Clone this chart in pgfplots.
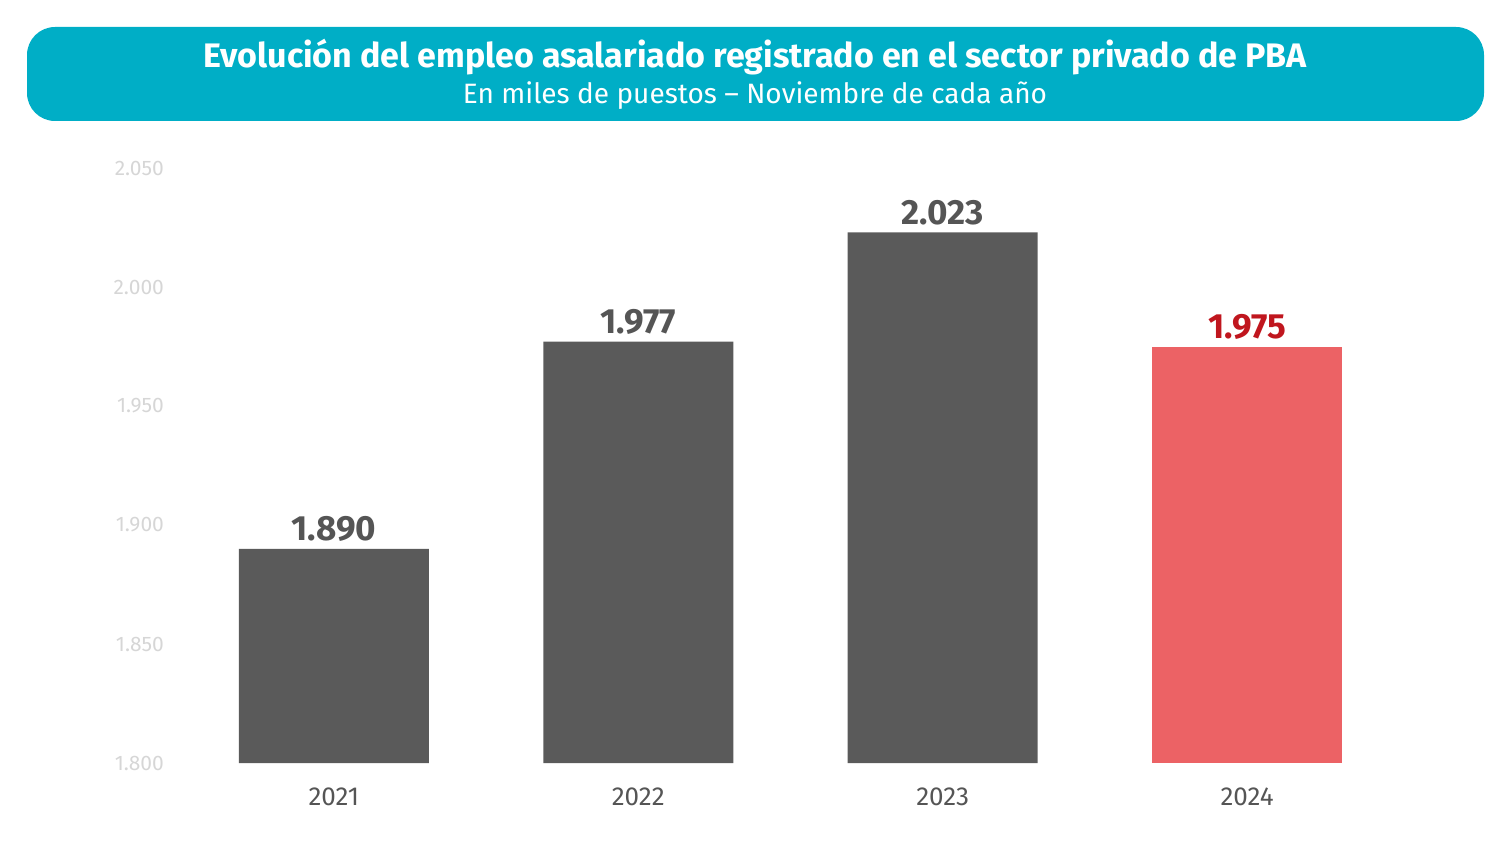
\documentclass[border=0pt]{standalone}
\usepackage{fontspec}
\setmainfont{Fira Sans}
\usepackage{pgfplots}
\pgfplotsset{compat=1.18}
\definecolor{banner}{HTML}{00AEC6}
\definecolor{bargray}{HTML}{5A5A5A}
\definecolor{barred}{HTML}{EC6265}
\definecolor{valred}{HTML}{C0161E}
\definecolor{ticklight}{HTML}{D6D6D6}
\definecolor{xlab}{HTML}{555555}
\begin{document}
\begin{tikzpicture}[x=0.5pt,y=0.5pt]
\path[use as bounding box] (0,0) rectangle (1511,842);
\fill[banner, rounded corners=14pt] (27,721) rectangle (1484,815);
\node[white, font=\fontsize{17}{20}\selectfont\bfseries] at (755,785) {Evolución del empleo asalariado registrado en el sector privado de PBA};
\node[white, font=\fontsize{14}{16}\selectfont] at (755,746) {En miles de puestos – Noviembre de cada año};
\begin{axis}[
  at={(87.5pt,39.5pt)}, anchor=south west,
  scale only axis, width=632.5pt, height=297.5pt,
  xmin=-0.522, xmax=3.634, ymin=1800, ymax=2050,
  axis line style={draw=none},
  ytick={1800,1850,...,2050},
  xtick={0,1,2,3}, xticklabels={2021,2022,2023,2024},
  major tick length=0pt,
  /pgf/number format/assume math mode=true,
  /pgf/number format/1000 sep={.},
  yticklabel style={font=\fontsize{10.5}{12}\selectfont, text=ticklight, anchor=east, xshift=-2pt},
  xticklabel style={font=\fontsize{13}{15}\selectfont, text=xlab, yshift=-9pt},
  ybar, bar width=95pt, bar shift=0pt,
  nodes near coords,
  nodes near coords style={font=\fontsize{17.5}{21}\selectfont\bfseries},
  clip=false,
]
\addplot[fill=bargray, draw=none, nodes near coords style={text=xlab}] coordinates {(0,1890) (1,1977) (2,2023)};
\addplot[fill=barred, draw=none, nodes near coords style={text=valred}] coordinates {(3,1975)};
\end{axis}
\end{tikzpicture}
\end{document}
